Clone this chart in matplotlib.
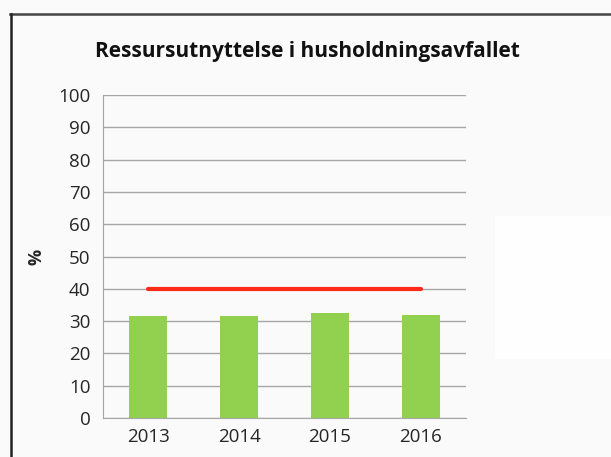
import numpy as np
import matplotlib
matplotlib.use('Agg')
import matplotlib.pyplot as plt
from matplotlib.patches import Rectangle
from matplotlib.lines import Line2D

years = ['2013', '2014', '2015', '2016']
share = [31.7, 31.7, 32.4, 32.0]
target = [40, 40, 40, 40]
yticks = list(range(0, 101, 10))

plt.rcParams['font.family'] = ['Open Sans', 'DejaVu Sans']

W, H = 611, 457
fig = plt.figure(figsize=(W / 100, H / 100), dpi=100)
fig.patch.set_facecolor('#fafafa')

# faint lighter patch on the right, as in the scan
fig.patches.append(Rectangle((495 / W, 1 - 359 / H), 116 / W, 143 / H,
                             transform=fig.transFigure, facecolor='#fefefe',
                             edgecolor='none', zorder=0))

# border: top and left
fig.add_artist(Line2D([10 / W, 1], [1 - 14 / H, 1 - 14 / H], color='#444444', lw=1.8))
fig.add_artist(Line2D([10.5 / W, 10.5 / W], [0, 1 - 14 / H], color='#222222', lw=1.8))

ax = fig.add_axes([103 / W, 1 - 418 / H, (466 - 103) / W, (418 - 95) / H])
ax.set_facecolor('none')

x = np.arange(len(years))
ax.bar(x, share, width=0.42, color='#92d050', zorder=2)
ax.plot(x, target, color='#ff2a1a', lw=3, solid_capstyle='round', zorder=3)

ax.set_xlim(-0.5, len(years) - 0.5)
ax.set_ylim(0, 100)
ax.set_yticks(yticks)
ax.set_xticks(x)
ax.set_xticklabels(years)
ax.yaxis.grid(True, color='#a6a6a6', lw=1)
ax.set_axisbelow(True)
for s in ['top', 'right']:
    ax.spines[s].set_visible(False)
ax.spines['left'].set_color('#a6a6a6')
ax.spines['bottom'].set_color('#a6a6a6')
ax.tick_params(length=0, labelsize=13.5, colors='#262626', pad=9)
ax.tick_params(axis='x', pad=7)

ax.set_ylabel('%', fontsize=13, fontweight='bold', color='#262626')
ax.yaxis.set_label_coords(-0.158, 0.5)
fig.text(307 / W, 1 - 52 / H, 'Ressursutnyttelse i husholdningsavfallet',
         ha='center', va='center', fontsize=15, fontweight='bold', color='#111111')

fig.savefig('out.png', dpi=100, facecolor=fig.get_facecolor())
